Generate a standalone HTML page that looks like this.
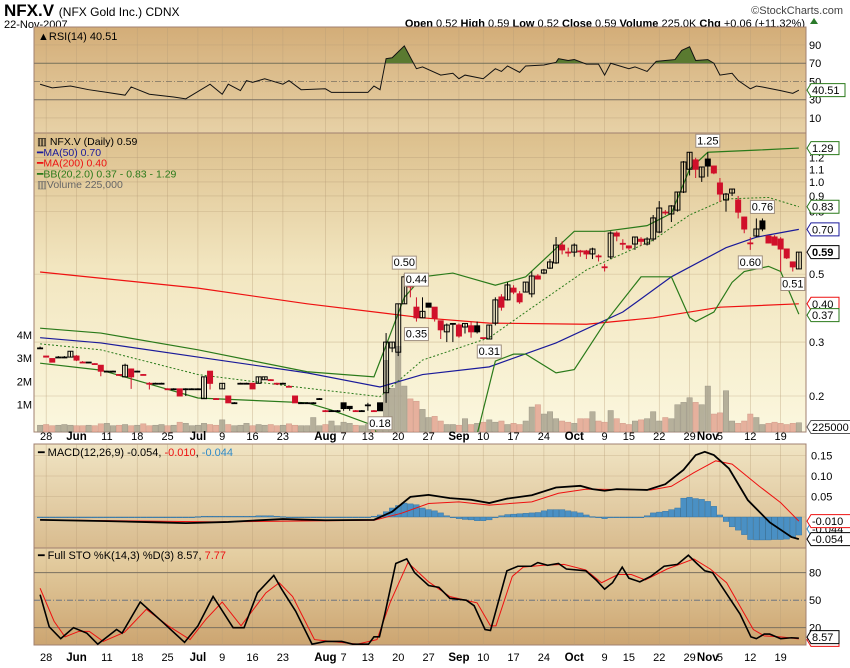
<!DOCTYPE html>
<html><head><meta charset="utf-8"><style>
body{margin:0;background:#fff;}
svg{display:block;font-family:"Liberation Sans",sans-serif;}
</style></head><body>
<svg id="chart" width="850" height="668" viewBox="0 0 850 668" xmlns="http://www.w3.org/2000/svg">
<defs>
<linearGradient id="gRsi" x1="0" y1="0" x2="0" y2="1"><stop offset="0" stop-color="#d3ad78"/><stop offset="1" stop-color="#e7d1a6"/></linearGradient>
<linearGradient id="gPrice" x1="0" y1="0" x2="0" y2="1"><stop offset="0" stop-color="#dcbf8c"/><stop offset="0.45" stop-color="#f2e6c0"/><stop offset="1" stop-color="#fbf7de"/></linearGradient>
<linearGradient id="gMacd" x1="0" y1="0" x2="0" y2="1"><stop offset="0" stop-color="#f0e4c3"/><stop offset="1" stop-color="#d9bc8f"/></linearGradient>
<linearGradient id="gSto" x1="0" y1="0" x2="0" y2="1"><stop offset="0" stop-color="#e6d1a5"/><stop offset="1" stop-color="#cca571"/></linearGradient>
<clipPath id="cPrice"><rect x="34" y="133" width="772" height="299"/></clipPath>
<clipPath id="cRsi"><rect x="34" y="27" width="772" height="106"/></clipPath>
</defs>
<text x="4" y="16" font-size="17" font-weight="bold">NFX.V <tspan font-size="12" font-weight="normal">(NFX Gold Inc.) CDNX</tspan></text>
<text x="4" y="28" font-size="11">22-Nov-2007</text>
<text x="843" y="14" font-size="11" text-anchor="end" fill="#444">©StockCharts.com</text>
<text x="805" y="27" font-size="11" text-anchor="end"><tspan font-weight="bold">Open</tspan> 0.52 <tspan font-weight="bold">High</tspan> 0.59 <tspan font-weight="bold">Low</tspan> 0.52 <tspan font-weight="bold">Close</tspan> 0.59 <tspan font-weight="bold">Volume</tspan> 225.0K <tspan font-weight="bold">Chg</tspan> +0.06 (+11.32%)</text>
<path d="M810 24 L814 18 L818 24Z" fill="#2a7a2a"/>
<g id="panels"></g>
</svg>
<script>
const N=126;
// price data
const opens=[.287,.27,.265,.268,.268,.268,.27,.258,.258,.255,.252,.241,.241,.235,.231,.245,.241,.235,.22,.22,.22,.211,.211,.211,.211,.211,.211,.196,.241,.196,.211,.2,.19,.22,.22,.22,.22,.226,.226,.22,.22,.215,.2,.19,.19,.19,.196,.179,.179,.179,.19,.185,.179,.179,.187,.179,
.19,.205,.287,.278,.40,.457,.39,.36,.402,.39,.352,.324,.345,.341,.336,.339,.339,.31,.307,.346,.421,.412,.45,.431,.437,.431,.493,.504,.523,.544,.622,.59,.59,.595,.595,.582,.573,.528,.569,.681,.63,.618,.627,.65,.627,.651,.686,.797,.786,.809,.927,1.10,1.18,1.038,1.188,1.127,.992,.873,.92,.873,.768,.632,.666,.746,.666,.661,.651,.604,.548,.52];
const highs=[.29,.27,.265,.27,.27,.28,.272,.26,.258,.256,.252,.242,.242,.236,.255,.246,.242,.236,.222,.221,.221,.212,.212,.211,.212,.212,.212,.231,.241,.197,.22,.2,.191,.221,.221,.22,.231,.231,.227,.221,.221,.216,.2,.191,.191,.191,.197,.18,.18,.18,.19,.185,.18,.18,.19,.18,
.19,.321,.30,.40,.50,.49,.42,.42,.402,.39,.352,.345,.346,.345,.345,.35,.35,.31,.34,.42,.43,.47,.46,.44,.471,.51,.50,.52,.56,.661,.64,.61,.63,.60,.60,.61,.58,.54,.69,.69,.65,.62,.66,.66,.66,.78,.866,.81,.84,.93,1.17,1.25,1.20,1.12,1.25,1.13,1.03,.92,.95,.90,.77,.66,.76,.76,.67,.67,.66,.60,.55,.59];
const lows=[.285,.268,.258,.268,.266,.268,.26,.258,.256,.254,.232,.24,.24,.234,.23,.211,.24,.234,.21,.219,.219,.21,.21,.2,.2,.21,.21,.196,.21,.195,.211,.19,.189,.219,.219,.211,.22,.226,.225,.219,.219,.214,.19,.189,.189,.189,.195,.178,.178,.178,.179,.179,.178,.178,.179,.178,
.179,.19,.278,.27,.40,.42,.35,.36,.39,.35,.307,.30,.30,.31,.32,.31,.32,.307,.307,.34,.38,.41,.43,.40,.437,.42,.48,.50,.52,.54,.58,.57,.57,.57,.56,.56,.55,.51,.56,.64,.60,.60,.60,.62,.62,.64,.68,.78,.74,.80,.92,1.05,1.03,1.0,1.04,1.06,.86,.80,.90,.76,.68,.60,.66,.69,.63,.62,.51,.56,.51,.52];
const closes=[.287,.268,.258,.268,.268,.28,.262,.258,.258,.255,.241,.241,.241,.235,.252,.231,.241,.235,.22,.22,.22,.211,.211,.2,.211,.211,.211,.231,.22,.196,.22,.19,.19,.22,.22,.211,.231,.231,.226,.22,.22,.215,.19,.19,.19,.19,.196,.179,.179,.179,.182,.182,.179,.179,.187,.179,
.179,.30,.30,.40,.49,.457,.36,.378,.39,.359,.329,.341,.345,.314,.345,.324,.324,.31,.341,.412,.39,.461,.437,.406,.471,.493,.482,.516,.548,.622,.60,.59,.622,.595,.582,.604,.573,.528,.681,.666,.63,.609,.661,.64,.651,.763,.822,.797,.835,.927,1.162,1.25,1.10,1.119,1.127,1.07,.913,.913,.948,.797,.702,.632,.702,.702,.632,.622,.604,.565,.528,.59];
const volumesM=[.12,.15,.1,.12,.15,.12,.1,.1,.12,.1,.18,.2,.1,.12,.15,.1,.12,.18,.1,.12,.15,.1,.12,.25,.2,.1,.12,.2,.15,.12,.35,.15,.1,.12,.2,.1,.15,.12,.15,.1,.12,.18,.12,.1,.1,.45,.1,.15,.3,.1,.25,.2,.12,.1,.15,.2,
.2,2.9,1.7,3.5,1.8,1.25,1.15,.8,.45,.5,.3,.15,.15,.12,.4,.15,.2,.25,.35,.25,.3,.15,.2,.15,.3,.9,1.0,.6,.7,.4,.3,.25,.2,.4,.4,.7,.3,.25,.75,.4,.2,.15,.3,.35,.4,.7,.3,.45,.4,1.0,1.1,1.3,1.1,1.0,1.8,.6,.65,1.6,.3,.2,.3,.6,.45,.15,.2,.25,.2,.15,.2,.225];
// moving averages & bands (sampled at bar indices)
const ma200Idx=[0,26,44,63,74,90,101,112,125];
const ma200Val=[.508,.45,.40,.36,.346,.343,.36,.39,.40];
const ma50Idx=[0,10,26,44,56,63,74,85,96,104,113,118,125];
const ma50Val=[.31,.298,.268,.238,.214,.235,.249,.298,.376,.49,.61,.66,.70];
const bbUpIdx=[0,10,26,44,55,56,58,60,63,68,75,80,88,93,100,104,107,110,118,125];
const bbUpVal=[.333,.321,.283,.24,.231,.26,.33,.42,.49,.504,.46,.49,.69,.69,.72,.79,1.1,1.25,1.27,1.29];
const bbMidIdx=[0,10,26,44,56,63,74,80,90,101,107,113,120,125];
const bbMidVal=[.296,.283,.235,.212,.199,.262,.31,.376,.516,.646,.78,.88,.89,.83];
const bbLoIdx=[0,10,26,44,48,55,57,60,66,72,75,78,80,85,88,93,99,104,107,108,111,114,116,120,122,125];
const bbLoVal=[.256,.243,.197,.19,.18,.16,.12,.09,.09,.15,.26,.274,.274,.238,.244,.346,.49,.49,.36,.35,.376,.47,.51,.53,.51,.37];
// RSI
const rsiIdx=[0,2,5,8,11,14,15,18,22,24,25,28,30,31,33,34,35,37,40,41,43,47,48,54,55,56,57,58,60,62,63,66,68,69,70,73,75,76,77,79,80,83,85,85.4,87,88,90,92,93,94,97,98,100,101.5,103,104.6,105.7,107,108,110,111,112,114,115,117,118,119,122,124,125];
const rsiVal=[47,43,45,41,38,35,44,36,33,31,35,47,36,47,40,51,49,53,47,51,41,42,38,38,45,41,75,76,89,64,66,57,59,53,57,53,64,61,67,60,67,68,71,75,73,74,69,69,57,70,64,66,61,72,73,74,84,88,73,74,70,57,59,51,42,45,44,40,37,40.51];
// MACD
const macdIdx=[0,11,19,24,31,40,47,55,58,61,64,67.5,71,74,77,81,85,89,91,93,95,100,103,106,108,109.5,111,113.5,116.6,120.2,123.8,125];
const macdVal=[-.007,-.01,-.013,-.015,-.012,-.005,-.008,-.007,.013,.049,.054,.046,.042,.034,.045,.053,.072,.076,.068,.064,.068,.066,.08,.115,.151,.159,.151,.118,.041,-.013,-.049,-.054];
const sigIdx=[0,29,55,59.5,64,69,74,81,85.4,90,100.6,104,107.7,111.3,114,118.4,122,125];
const sigVal=[-.007,-.012,-.008,.009,.033,.037,.029,.037,.058,.068,.066,.075,.108,.137,.129,.076,.035,-.01];
const histVal=[-.002,-.002,-.002,-.002,-.002,-.002,-.002,-.002,-.002,-.002,-.002,-.001,-.001,-.001,-.001,-.001,-.001,-.001,-.001,-.001,-.001,-.001,-.001,-.001,-.001,-.001,.001,.002,.002,.002,.002,.002,.002,.002,.002,.002,.003,.003,.003,.002,.001,0,0,0,0,0,0,0,0,0,0,0,0,0,0,.002,
.005,.013,.022,.028,.034,.032,.03,.022,.018,.015,.01,.003,0,-.004,-.006,-.007,-.009,-.009,-.007,-.002,.003,.006,.007,.008,.009,.01,.011,.015,.018,.018,.018,.015,.013,.01,.005,.001,-.002,-.004,-.002,-.001,-.002,-.002,-.002,0,.003,.01,.012,.014,.018,.022,.046,.048,.045,.043,.038,.026,.005,-.011,-.024,-.032,-.043,-.055,-.056,-.056,-.056,-.055,-.055,-.054,-.05,-.044];
// Stochastics
const kIdx=[0,1.5,3.4,5.5,7.7,9.5,12.6,13.5,16.5,20.2,23.8,26,28.5,31.8,33.6,35.8,38.5,39.8,42.1,44.8,47,49.7,51.5,54.1,55,55.9,56.8,58.6,60.4,61.7,64,65.7,67.5,70.2,71.5,73.3,74.2,76.9,78.7,80.9,82,83.6,85.4,86.7,89.9,91.6,93,94.3,95.9,97,98.8,100.6,102.8,105,106.8,108.2,109.5,110.8,112.6,115.3,117.1,118,119.3,120.2,122,123.8,125];
const kVal=[56,21,8,20,14,2,18,14,48,26,4,22,54,20,20,58,77,62,38,2,5,5,2,2,10,10,35,90,95,80,66,64,52,50,44,18,17,82,87,87,91,88,90,84,82,72,62,69,86,74,70,76,87,89,99,90,82,80,62,35,10,8,13,13,8,9,8.57];
const dIdx=[0,2.3,4.1,6.4,8.1,10.4,13.9,17.5,21.1,24.7,27.3,30,33.1,37.2,39.4,41.6,45.2,47.9,52.3,55.5,57.7,60.6,64,67.5,72,74.2,75.1,77.8,79.6,82.7,86.3,89.9,92.5,95.2,97.4,99.7,103.3,107.7,110.4,113.1,117.5,119.3,122,125];
const dVal=[63,27,10,16,16,5,15,40,22,7,29,48,22,58,69,54,7,5,2,7,48,91,70,54,47,22,22,76,86,88,89,83,69,78,78,72,84,95,84,69,18,11,10,7.77];
// axis labels
const rsiTicks=[90,70,50,30,10];
const priceTicks=[1.2,1.1,1.0,0.9,0.8,0.5,0.3,0.2];
const volTicks=[4,3,2,1];
const macdTicks=[0.15,0.10,0.05];
const stoTicks=[80,50,20];
const dateIdx=[1,6,11,16,21,26,30,35,40,47,50,54,59,64,69,73,78,83,88,93,97,102,107,110,112,117,122];
const dateLbl=["28","Jun","11","18","25","Jul","9","16","23","Aug","7","13","20","27","Sep","10","17","24","Oct","9","15","22","29","Nov","5","12","19"];
const priceFlags=[[60,.50,"0.50","up"],[62,.44,"0.44","up"],[62,.35,"0.35","down"],[56,.179,"0.18","down"],[74,.307,"0.31","down"],[110,1.25,"1.25","up"],[119,.76,"0.76","up"],[117,.60,"0.60","down"],[124,.51,"0.51","down"]];

const NS="http://www.w3.org/2000/svg";
const root=document.getElementById('panels');
function mk(tag,attrs,parent){const e=document.createElementNS(NS,tag);for(const k in attrs)e.setAttribute(k,attrs[k]);(parent||root).appendChild(e);return e;}
const X=i=>40.1+6.07*i;
const PY=p=>396-133*Math.log(p/0.2);
const RY=v=>127.1-0.9125*v;
const MY=v=>517-410*v;
const SY=v=>646-0.9167*v;
const VY=m=>428-23.3*m;
const L=34,R=806;

function panel(y0,y1,fill,name){const r=mk('rect',{x:L,y:y0,width:R-L,height:y1-y0,fill:fill,stroke:'#a08070','stroke-width':1});

}
panel(27,133,'url(#gRsi)','rsi-panel');
panel(133,432,'url(#gPrice)','price-panel');
panel(444,548,'url(#gMacd)','macd-panel');
panel(548,645,'url(#gSto)','sto-panel');

dateIdx.forEach(i=>{[[27,432],[444,645]].forEach(([a,b])=>{const g=mk('line',{x1:X(i),x2:X(i),y1:a,y2:b,stroke:'#b89e78','stroke-width':0.6,opacity:0.6});

});});
function hline(y,name,style){const g=mk('line',Object.assign({x1:L,x2:R,y1:y,y2:y},style));

}
function tick(xp,y,txt,name,anchor,extra){const t=mk('text',Object.assign({x:xp,y:y+4,'font-size':11,'text-anchor':anchor||'start'},extra||{}));t.textContent=txt;

return t;}

rsiTicks.forEach(v=>{const st=(v===70||v===30)?{stroke:'#7a7060','stroke-width':1}:(v===50?{stroke:'#7a7060','stroke-width':0.8,'stroke-dasharray':'6,2,1,2'}:{stroke:'#b89e78','stroke-width':0.6,opacity:0.6});
hline(RY(v),'rsi-gridline',st);tick(809,RY(v),String(v),'rsi-tick-label');});
const rsiPts=rsiIdx.map((i,k)=>[X(i),RY(rsiVal[k])]);
const rg=mk('g',{'clip-path':'url(#cRsi)'});
const cp=mk('clipPath',{id:'above70'},rg);mk('rect',{x:L,y:27,width:R-L,height:RY(70)-27},cp);
const fillD='M'+rsiPts.map(p=>p.join(',')).join('L')+`L${X(125)},${RY(70)}L${X(0)},${RY(70)}Z`;
const rf=mk('path',{d:fillD,fill:'#5a7a30','clip-path':'url(#above70)'},rg);


const rl=mk('polyline',{points:rsiPts.map(p=>p.join(',')).join(' '),fill:'none',stroke:'#111','stroke-width':1},rg);


tick(38,36,'▲RSI(14) 40.51','rsi-legend','start',{'font-size':11});

priceTicks.forEach(p=>{hline(PY(p),'price-gridline',{stroke:'#b89e78','stroke-width':0.6,opacity:0.6});tick(809,PY(p),p.toFixed(1),'price-tick-label');});
volTicks.forEach(m=>{tick(32,VY(m),m+'M','volume-tick-label','end');});
const pg=mk('g',{'clip-path':'url(#cPrice)'});
for(let i=0;i<N;i++){const up=i===0||closes[i]>=closes[i-1];
const b=mk('rect',{x:X(i)-2.7,y:VY(volumesM[i]),width:5.4,height:428-VY(volumesM[i])+4,fill:up?'#aaa490':'#e3a593',stroke:up?'#8c8678':'#c98a7a','stroke-width':0.5,opacity:0.85},pg);

}
function line(idx,val,yf,style,name,parent){const l=mk('polyline',Object.assign({points:idx.map((i,k)=>X(i)+','+yf(val[k])).join(' '),fill:'none'},style),parent);

}
line(ma200Idx,ma200Val,PY,{stroke:'#ee1111','stroke-width':1.2},'ma200-line',pg);
line(ma50Idx,ma50Val,PY,{stroke:'#1a1a9a','stroke-width':1.2},'ma50-line',pg);
line(bbUpIdx,bbUpVal,PY,{stroke:'#2a7a1a','stroke-width':1.2},'bb-upper-line',pg);
line(bbLoIdx,bbLoVal,PY,{stroke:'#2a7a1a','stroke-width':1.2},'bb-lower-line',pg);
line(bbMidIdx,bbMidVal,PY,{stroke:'#2a7a1a','stroke-width':1,'stroke-dasharray':'2,2'},'bb-middle-line',pg);
for(let i=0;i<N;i++){const o=opens[i],h=highs[i],l=lows[i],c=closes[i];
const col=(i===0||c>=closes[i-1])?'#000':'#d0102a';const filled=c<o;
const w=mk('line',{x1:X(i),x2:X(i),y1:PY(h),y2:PY(l),stroke:col,'stroke-width':1},pg);


const top=PY(Math.max(o,c)),bot=PY(Math.min(o,c));
const b=mk('rect',{x:X(i)-2.5,y:top,width:5,height:Math.max(bot-top,0.8),fill:filled?col:'none',stroke:col,'stroke-width':1},pg);

}
priceFlags.forEach(([i,p,t,dir])=>{const cx=X(i),y=PY(p);const by=dir==='up'?y-18:y+6;
const g=mk('g',{});


mk('rect',{x:cx-12,y:by,width:24,height:13,fill:'#fff',stroke:'#a09080','stroke-width':1},g);
const tt=mk('text',{x:cx,y:by+10,'font-size':11,'text-anchor':'middle'},g);tt.textContent=t;});
const leg=[['▥ NFX.V (Daily) 0.59','#000'],['━MA(50) 0.70','#1a1a9a'],['━MA(200) 0.40','#ee1111'],['━BB(20,2.0) 0.37 - 0.83 - 1.29','#2a7a1a'],['▥Volume 225,000','#666']];
leg.forEach((l,k)=>{tick(37,141+k*10.8,l[0],'price-legend-entry','start',{fill:l[1],'font-size':10.5});});

function dates(y,name){dateIdx.forEach((i,k)=>{const bold=isNaN(+dateLbl[k]);tick(X(i),y,dateLbl[k],name,'middle',bold?{'font-weight':'bold','font-size':11.5}:{});});}
dates(436,'price-date-label');dates(657,'bottom-date-label');

macdTicks.forEach(v=>{hline(MY(v),'macd-gridline',{stroke:'#b89e78','stroke-width':0.6,opacity:0.6});tick(811,MY(v),v.toFixed(2),'macd-tick-label');});
hline(MY(0),'macd-zero-line',{stroke:'#b89e78','stroke-width':0.6,opacity:0.6});
histVal.forEach((v,i)=>{const y0=MY(0),y1=MY(v);const b=mk('rect',{x:X(i)-2.8,y:Math.min(y0,y1),width:5.6,height:Math.max(Math.abs(y1-y0),0.8),fill:'#4a90c4',stroke:'#2e6e9e','stroke-width':0.4});

});
line(sigIdx,sigVal,MY,{stroke:'#ee1111','stroke-width':1},'macd-signal-line');
line(macdIdx,macdVal,MY,{stroke:'#000','stroke-width':1.8},'macd-line');
const ml=tick(38,452,'','macd-legend','start');ml.innerHTML='━ MACD(12,26,9) -0.054, <tspan fill="#ee1111">-0.010</tspan>, <tspan fill="#2e8ac8">-0.044</tspan>';

stoTicks.forEach(v=>{const st=v===50?{stroke:'#5a6a80','stroke-width':0.8,'stroke-dasharray':'6,2,1,2'}:{stroke:'#7a7060','stroke-width':1};hline(SY(v),'sto-gridline',st);tick(809,SY(v),String(v),'sto-tick-label');});
line(dIdx,dVal,SY,{stroke:'#ee1111','stroke-width':1},'sto-d-line');
line(kIdx,kVal,SY,{stroke:'#000','stroke-width':1.6},'sto-k-line');
const sl=tick(38,555,'','sto-legend','start');sl.innerHTML='━ Full STO %K(14,3) %D(3) 8.57, <tspan fill="#ee1111">7.77</tspan>';

function tag(y,txt,col,name,bold){const g=mk('g',{});


const w=txt.length*6+4;
mk('path',{d:`M807 ${y} L811 ${y-6.5} L${811+w} ${y-6.5} L${811+w} ${y+6.5} L811 ${y+6.5} Z`,fill:'#fff',stroke:col,'stroke-width':1},g);
const t=mk('text',{x:812,y:y+4,'font-size':11,'font-weight':bold?'bold':'normal'},g);t.textContent=txt;}
tag(RY(40.51),'40.51','#2a7a1a','rsi-value-tag');
tag(PY(1.29),'1.29','#2a7a1a','bb-upper-tag');
tag(PY(0.83),'0.83','#2a7a1a','bb-middle-tag');
tag(PY(0.70),'0.70','#1a1a9a','ma50-tag');
tag(PY(0.59),'0.59','#000','close-price-tag',true);
tag(PY(0.40),'0.40','#ee1111','ma200-tag');
tag(PY(0.37)+1,'0.37','#2a7a1a','bb-lower-tag');
tag(427,'225000','#555','volume-tag');
tag(MY(-0.044)-6,'-0.044','#2e8ac8','macd-hist-tag');
tag(MY(-0.010),'-0.010','#ee1111','macd-signal-tag');
tag(MY(-0.054),'-0.054','#000','macd-value-tag');
tag(SY(7.77)+1,'7.77','#ee1111','sto-d-tag');
tag(SY(8.57)-1,'8.57','#000','sto-k-tag');
</script>
</body></html>
